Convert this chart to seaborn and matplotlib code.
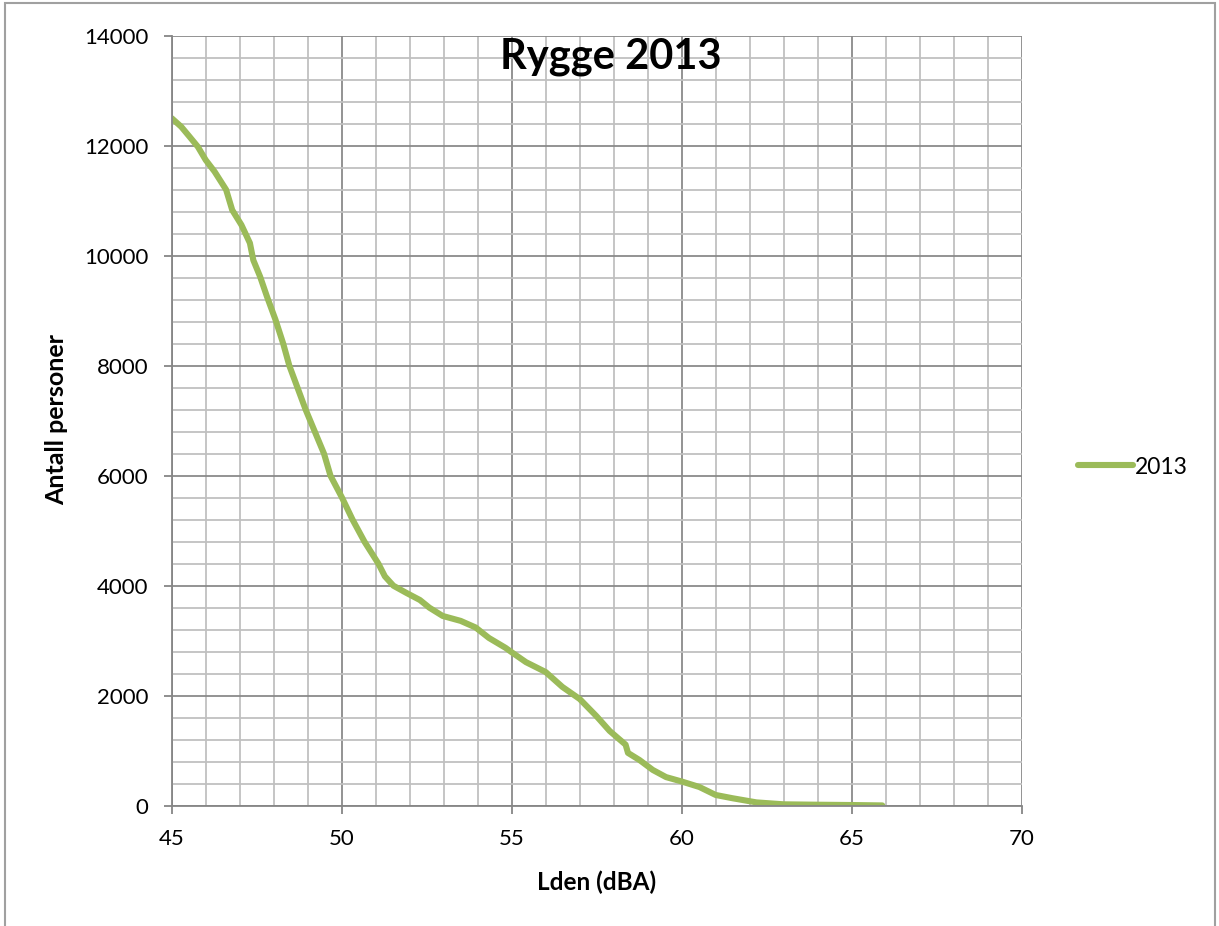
import matplotlib
matplotlib.use("Agg")
import matplotlib.pyplot as plt
from matplotlib.patches import Rectangle
from matplotlib.ticker import MultipleLocator
import seaborn as sns
import pandas as pd

# --- data ---
lden = [45.0, 45.28, 45.53, 45.77, 46.0, 46.26, 46.6, 46.78, 47.05, 47.3,
        47.4, 47.6, 47.8, 48.05, 48.28, 48.46, 48.70, 48.94, 49.21, 49.48,
        49.67, 50.01, 50.32, 50.67, 51.08, 51.27, 51.52, 51.9, 52.3, 52.58,
        52.97, 53.5, 53.94, 54.33, 54.82, 55.0, 55.42, 56.0, 56.49, 57.0,
        57.49, 57.88, 58.35, 58.42, 58.76, 59.15, 59.54, 60.0, 60.52, 61.0,
        61.5, 62.2, 63.0, 63.95, 65.03, 65.9]
persons = [12500, 12345, 12160, 11980, 11740, 11530, 11200, 10830, 10560, 10230,
           9920, 9620, 9260, 8840, 8400, 8000, 7600, 7200, 6800, 6400,
           6000, 5600, 5200, 4800, 4400, 4170, 4000, 3870, 3740, 3600,
           3450, 3360, 3240, 3050, 2870, 2790, 2610, 2430, 2160, 1940,
           1630, 1360, 1110, 960, 830, 650, 520, 440, 340, 195,
           135, 60, 25, 18, 12, 5]
series_name = "2013"

df = pd.DataFrame({"Lden": lden, "Antall": persons, "Serie": series_name})

sns.set_theme(style="white")
plt.rcParams["font.family"] = ["Lato", "DejaVu Sans"]
plt.rcParams["text.color"] = "black"

W, H = 1219, 926
fig = plt.figure(figsize=(W / 100, H / 100), dpi=100)
ax = fig.add_axes([171.7 / W, 1 - 805.7 / H, 850 / W, 770 / H])

sns.lineplot(data=df, x="Lden", y="Antall", hue="Serie",
             palette=["#9BBB59"], linewidth=4.4, sort=False, ax=ax,
             solid_capstyle="round", solid_joinstyle="round")

ax.set_xlim(45, 70)
ax.set_ylim(0, 14000)
ax.xaxis.set_major_locator(MultipleLocator(5))
ax.xaxis.set_minor_locator(MultipleLocator(1))
ax.yaxis.set_major_locator(MultipleLocator(2000))
ax.yaxis.set_minor_locator(MultipleLocator(400))

ax.grid(True, which="minor", color="#C0C0C0", linewidth=1.3)
ax.grid(True, which="major", color="#8A8A8A", linewidth=1.3)
ax.set_axisbelow(True)

for s in ["top", "right"]:
    ax.spines[s].set_visible(False)
for s in ["left", "bottom"]:
    ax.spines[s].set_color("#868686")
    ax.spines[s].set_linewidth(1.3)

ax.tick_params(which="major", length=6, width=1.3, color="#868686",
               labelsize=16, labelcolor="black", pad=11)
ax.tick_params(which="minor", length=0)
ax.tick_params(axis="both", which="major", direction="out", bottom=True, left=True)

ax.set_xlabel("Lden (dBA)", fontsize=17.5, fontweight="bold", color="black")
ax.set_ylabel("Antall personer", fontsize=18, fontweight="bold", color="black")
ax.xaxis.set_label_coords(0.5, -0.099)
ax.xaxis.label.set_va("center")
ax.yaxis.set_label_coords(-0.135, 0.501)
ax.yaxis.label.set_va("center")

fig.text(611 / W, 1 - 57 / H, "Rygge 2013", fontsize=30, fontweight="bold",
         ha="center", va="center", color="black")

leg = ax.legend(title=None, frameon=False, loc="center left",
                bbox_to_anchor=(1057 / W, 1 - 467 / H), bbox_transform=fig.transFigure,
                fontsize=16.5, handlelength=2.4, handletextpad=0.1)
for t in leg.get_texts():
    t.set_color("black")

fig.patches.append(Rectangle((5 / W, -0.05), 1210 / W, 1 - 3 / H + 0.05,
                             transform=fig.transFigure, fill=False,
                             edgecolor="#A0A0A0", linewidth=1.5))

fig.savefig("out.png", dpi=100)
